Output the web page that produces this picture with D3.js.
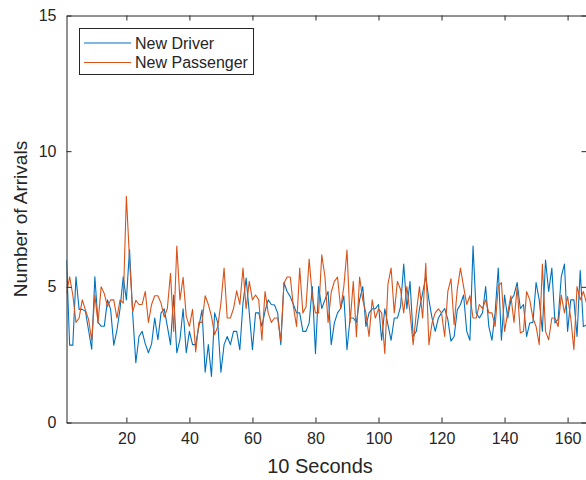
<!DOCTYPE html>
<html><head><meta charset="utf-8">
<script src="https://cdn.jsdelivr.net/npm/d3@7"></script>
<style>body{margin:0;background:#fff}svg{display:block}text{font-family:"Liberation Sans",Arial,Helvetica,sans-serif;fill:#262626}</style>
</head><body><svg id="c" width="586" height="480"></svg>
<script>
const driver = [6.0,2.85,2.85,5.37,4.17,4.17,4.1,3.4,2.7,5.37,3.69,3.55,3.55,4.52,4.17,2.85,3.4,4.2,5.37,4.52,
6.37,4.0,2.2,3.17,3.36,2.9,2.57,2.9,3.85,3.05,4.04,4.19,3.54,2.87,4.7,2.57,3.05,4.19,2.57,3.36,
2.87,2.87,3.54,4.15,1.85,2.87,1.7,4.04,3.67,1.85,2.87,3.17,2.87,3.36,3.36,2.68,4.4,5.32,4.04,2.68,
4.04,4.04,3.54,4.1,4.52,4.35,4.33,4.04,2.87,5.16,4.83,4.64,4.35,4.04,4.04,3.36,3.36,3.67,5.01,2.54,
5.01,4.2,4.52,4.83,2.87,3.67,4.04,4.2,4.67,2.68,3.85,3.85,3.69,4.52,5.01,3.54,4.04,4.19,4.19,4.35,
3.03,4.19,3.6,3.03,3.85,3.85,4.27,5.84,4.19,5.2,3.17,3.36,4.19,4.77,5.38,4.52,3.85,3.36,3.85,4.04,
4.2,3.8,3.0,3.17,4.15,4.35,4.7,3.36,3.03,6.5,4.04,3.85,4.04,5.01,3.54,3.03,4.04,5.69,3.03,4.7,
3.85,4.52,4.7,5.16,4.2,4.35,3.17,3.67,3.69,5.16,4.52,3.36,5.99,4.83,5.69,3.67,3.8,5.38,5.84,3.36,
4.52,4.52,3.17,5.6,3.54,3.6];
const passenger = [4.76,5.37,4.7,3.69,3.85,4.52,4.15,3.8,3.03,4.7,3.67,5.0,4.75,4.27,4.52,4.52,3.85,4.52,4.4,8.34,
6.0,4.08,4.5,4.35,4.35,4.83,3.69,4.35,4.67,4.67,4.4,3.89,4.2,5.5,3.36,6.5,4.52,5.35,3.91,3.54,
4.17,2.6,3.69,3.69,4.67,4.35,3.91,3.24,3.54,4.4,5.69,3.85,3.85,4.2,4.85,4.35,5.69,4.19,5.2,4.52,
4.7,4.52,3.03,4.83,4.04,3.69,3.85,3.85,3.0,5.13,5.36,5.36,4.27,3.54,5.69,4.04,4.27,6.02,4.64,4.04,
4.04,6.18,5.38,3.69,4.8,5.2,5.36,4.2,5.01,6.36,3.69,5.2,3.17,5.36,4.52,4.04,3.17,4.52,3.85,4.19,
4.04,2.54,5.1,5.69,4.04,5.2,4.9,4.04,5.01,4.04,2.87,4.04,5.01,3.85,5.87,2.87,3.67,4.04,4.19,4.04,
3.17,4.83,5.3,3.6,4.9,5.69,5.01,4.35,4.67,3.85,3.85,4.35,4.2,4.52,4.04,4.04,3.54,5.01,5.16,3.36,
4.04,4.67,3.69,5.0,3.3,3.36,4.83,4.52,3.85,3.54,2.87,5.84,3.36,3.05,3.85,3.85,3.54,4.7,4.04,4.64,
3.85,2.68,5.01,4.52,4.83,4.4];
const seriesNames = ["New Driver","New Passenger"];
const colors = ["#0072BD","#D95319"];
const xTicks = [20,40,60,80,100,120,140,160];
const yTicks = [0,5,10,15];
const xLabel = "10 Seconds";
const yLabel = "Number of Arrivals";

(function(){
const svg = d3.select("#c");
const L=66.5, R=586.5, T=15.5, B=422.5;
const x = d3.scaleLinear().domain([1,166]).range([L,R]);
const y = d3.scaleLinear().domain([0,15]).range([B,T]);
const axCol="#262626", fs=16, tl=5;

svg.append("clipPath").attr("id","clip").append("rect").attr("x",L).attr("y",T).attr("width",R-L).attr("height",B-T);

const line = d3.line().x((d,i)=>x(i+1)).y(d=>y(d));
[driver,passenger].forEach((s,k)=>{
  svg.append("path").datum(s).attr("d",line).attr("fill","none").attr("stroke",colors[k])
    .attr("stroke-width",1.1).attr("stroke-linejoin","round").attr("clip-path","url(#clip)");
});

const axB = d3.axisBottom(x).tickValues(xTicks).tickSizeInner(-tl).tickSizeOuter(0).tickPadding(10);
const axT = d3.axisTop(x).tickValues(xTicks).tickSizeInner(-tl).tickSizeOuter(0).tickFormat("");
const axL = d3.axisLeft(y).tickValues(yTicks).tickSizeInner(-tl).tickSizeOuter(0).tickPadding(10);
const axR = d3.axisRight(y).tickValues(yTicks).tickSizeInner(-tl).tickSizeOuter(0).tickFormat("");
function style(g){
  g.attr("font-family",null).attr("font-size",null);
  g.select(".domain").attr("stroke",axCol).attr("stroke-width",1);
  g.selectAll(".tick line").attr("stroke",axCol).attr("stroke-width",1);
  g.selectAll(".tick text").attr("fill",axCol).style("font-size",fs+"px");
}
svg.append("g").attr("transform",`translate(0,${B})`).call(axB).call(style);
svg.append("g").attr("transform",`translate(0,${T})`).call(axT).call(style);
svg.append("g").attr("transform",`translate(${L},0)`).call(axL).call(style);
svg.append("g").attr("transform",`translate(${R},0)`).call(axR).call(style);

svg.append("text").attr("x",320).attr("y",473).attr("text-anchor","middle").style("font-size","20px").text(xLabel);
svg.append("text").attr("transform",`translate(27,${(T+B)/2}) rotate(-90)`).attr("text-anchor","middle").style("font-size","19px").text(yLabel);

const lg = svg.append("g");
lg.append("rect").attr("x",79.5).attr("y",28.5).attr("width",174).attr("height",46).attr("fill","#fff").attr("stroke",axCol).attr("stroke-width",1);
seriesNames.forEach((n,k)=>{
  const yy = 43 + k*19.5;
  lg.append("line").attr("x1",84).attr("x2",131).attr("y1",yy).attr("y2",yy).attr("stroke",colors[k]).attr("stroke-width",1.1);
  lg.append("text").attr("x",135).attr("y",yy).attr("dy","0.36em").style("font-size","16px").text(n);
});
})();
</script></body></html>
